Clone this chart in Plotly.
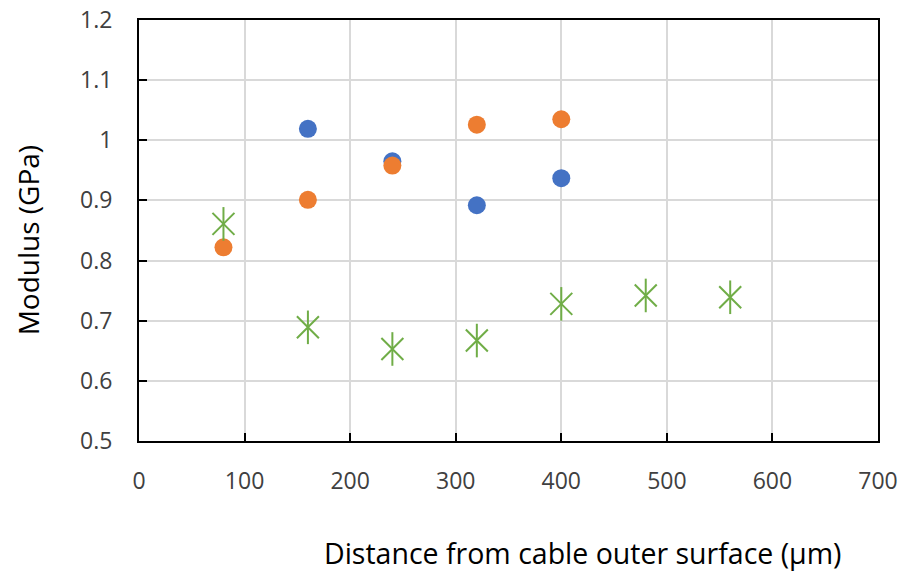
import plotly.graph_objects as go

# Modulus measurements vs. depth from the cable's outer surface
blue_x = [160, 240, 320, 400]
blue_y = [1.019, 0.965, 0.892, 0.937]

orange_x = [80, 160, 240, 320, 400]
orange_y = [0.822, 0.901, 0.958, 1.026, 1.035]

green_x = [80, 160, 240, 320, 400, 480, 560]
green_y = [0.861, 0.689, 0.653, 0.667, 0.728, 0.742, 0.739]

x_ticks = [0, 100, 200, 300, 400, 500, 600, 700]
y_ticks = [0.5, 0.6, 0.7, 0.8, 0.9, 1.0, 1.1, 1.2]
y_tick_text = ["0.5", "0.6", "0.7", "0.8", "0.9", "1", "1.1", "1.2"]

BLUE = "#4472C4"
ORANGE = "#ED7D31"
GREEN = "#70AD47"
FONT = "Open Sans"

fig = go.Figure()

fig.add_trace(go.Scatter(
    x=blue_x, y=blue_y, mode="markers",
    marker=dict(symbol="circle", size=18, color=BLUE),
    showlegend=False,
))
fig.add_trace(go.Scatter(
    x=orange_x, y=orange_y, mode="markers",
    marker=dict(symbol="circle", size=18, color=ORANGE),
    showlegend=False,
))
# six-armed star: an X plus a vertical bar
fig.add_trace(go.Scatter(
    x=green_x, y=green_y, mode="markers",
    marker=dict(symbol="x-thin-open", size=22, color=GREEN,
                line=dict(color=GREEN, width=2)),
    showlegend=False,
))
fig.add_trace(go.Scatter(
    x=green_x, y=green_y, mode="markers",
    marker=dict(symbol="line-ns-open", size=24, color=GREEN,
                line=dict(color=GREEN, width=2)),
    showlegend=False,
))

axis_common = dict(
    showline=True, linecolor="black", linewidth=2, mirror=True,
    showgrid=True, gridcolor="#D9D9D9", gridwidth=1.5,
    ticks="inside", ticklen=8, tickcolor="black", tickwidth=2,
    zeroline=False, automargin=False,
    tickfont=dict(family=FONT, size=23, color="#404040"),
)

fig.update_xaxes(
    range=[0, 700], tickvals=x_ticks, ticklabelstandoff=18, **axis_common,
)
fig.update_yaxes(
    range=[0.5, 1.2], tickvals=y_ticks, ticktext=y_tick_text,
    ticklabelstandoff=20, **axis_common,
)

fig.add_annotation(
    text="Modulus (GPa)", xref="paper", yref="paper",
    x=-0.150, y=0.477, textangle=-90, showarrow=False,
    xanchor="center", yanchor="middle",
    font=dict(family=FONT, size=28, color="black"),
)
fig.add_annotation(
    text="Distance from cable outer surface (\u03bcm)", xref="paper", yref="paper",
    x=0.601, y=-0.266, showarrow=False,
    xanchor="center", yanchor="middle",
    font=dict(family=FONT, size=28.5, color="black"),
)

fig.update_layout(
    width=902, height=571,
    margin=dict(l=139, r=24, t=20, b=130),
    paper_bgcolor="white", plot_bgcolor="white",
)

fig.write_html("out.html")
